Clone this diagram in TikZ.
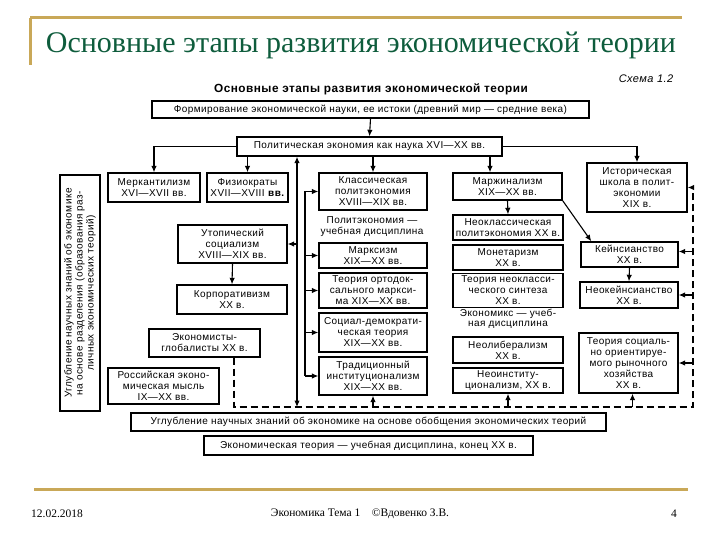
\documentclass[tikz,border=0pt]{standalone}
\usepackage{fontspec}
\setmainfont{Liberation Serif}
\setsansfont{Liberation Sans}
\newfontfamily\diag[LetterSpace=4]{Liberation Sans}
\usetikzlibrary{arrows.meta,calc}
\definecolor{gold}{RGB}{201,168,88}
\definecolor{titlegreen}{RGB}{14,92,60}
\tikzset{
  box/.style={draw, line width=1.4pt, align=center, inner sep=1pt, font=\diag\fontsize{10}{11}\selectfont},
  plain/.style={align=center, inner sep=0pt, font=\diag\fontsize{10}{10.2}\selectfont},
  arr/.style={-{Latex[length=6.5pt,width=5.5pt]}, line width=1.1pt},
  dsh/.style={line width=1.4pt, dash pattern=on 7pt off 4pt},
}
\begin{document}
\begin{tikzpicture}[x=1pt,y=-1pt]
\useasboundingbox (0,0) rectangle (720,540);
% frame
\draw[gold, line width=3pt] (30,18) -- (682,18);
\draw[gold, line width=3pt] (30,18) -- (30,65);
\draw[gold, line width=3pt] (34,489) -- (688,489);
\node[font=\fontsize{30}{34}\selectfont, text=titlegreen] (title) at (361,45) {Основные этапы развития экономической теории};
% heading
\node[font=\diag\bfseries\fontsize{11.8}{13}\selectfont] (head) at (371,89) {Основные этапы развития экономической теории};
\node[font=\diag\itshape\fontsize{11}{12}\selectfont] (schema) at (646,79) {Схема 1.2};
% boxes
\node[box, minimum width=437pt, minimum height=17pt] (form) at (370.5,109.5) {Формирование экономической науки, ее истоки (древний мир — средние века)};
\node[box, minimum width=265pt, minimum height=19pt] (pol) at (369.5,146.5) {Политическая экономия как наука XVI—XX вв.};
\node[box, minimum width=92pt, minimum height=29pt] (merk) at (154,187.5) {Меркантилизм\\XVI—XVII вв.};
\node[box, minimum width=81pt, minimum height=29pt] (fiz) at (247.5,187.5) {Физиократы\\XVII—XVIII \textbf{вв.}};
\node[box, minimum width=108pt, minimum height=37pt] (klass) at (373,191.5) {Классическая\\политэкономия\\XVIII—XIX вв.};
\node[plain] (polucheb) at (372,226.5) {Политэкономия —\\учебная дисциплина};
\node[box, minimum width=108pt, minimum height=25pt] (marks) at (373,255.5) {Марксизм\\XIX—XX вв.};
\node[box, minimum width=108pt, minimum height=35pt] (orto) at (373,290.5) {Теория ортодок-\\сального маркси-\\ма XIX—XX вв.};
\node[box, minimum width=108pt, minimum height=39pt] (socdem) at (373,332.5) {Социал-демократи-\\ческая теория\\XIX—XX вв.};
\node[box, minimum width=108pt, minimum height=38pt] (trad) at (373,376) {Традиционный\\институционализм\\XIX—XX вв.};
\node[box, minimum width=109pt, minimum height=27pt] (marg) at (507.5,186.5) {Маржинализм\\XIX—XX вв.};
\node[box, minimum width=110pt, minimum height=25pt] (neokl) at (508,227.5) {Неоклассическая\\политэкономия XX в.};
\node[box, minimum width=110pt, minimum height=25pt] (monet) at (508,257.5) {Монетаризм\\XX в.};
\node[box, minimum width=110pt, minimum height=34pt] (sintez) at (508,290.5) {Теория неокласси-\\ческого синтеза\\XX в.};
\node[plain] (ekonomiks) at (508,318.5) {Экономикс — учеб-\\ная дисциплина};
\node[box, minimum width=110pt, minimum height=26pt] (neolib) at (508,350) {Неолиберализм\\XX в.};
\node[box, minimum width=110pt, minimum height=25pt] (neoinst) at (508,380.5) {Неоинститу-\\ционализм, XX в.};
\node[box, minimum width=100pt, minimum height=49pt] (istor) at (637,187.5) {Историческая\\школа в полит-\\экономии\\XIX в.};
\node[box, minimum width=97pt, minimum height=25pt] (keyn) at (629.5,254.5) {Кейнсианство\\XX в.};
\node[box, minimum width=98pt, minimum height=26pt] (neokeyn) at (629,295) {Неокейнсианство\\XX в.};
\node[box, minimum width=99pt, minimum height=60pt] (socr) at (628.5,363) {Теория социаль-\\но ориентируе-\\мого рыночного\\хозяйства\\XX в.};
\node[box, minimum width=109pt, minimum height=38pt] (utop) at (232.5,244) {Утопический\\социализм\\XVIII—XIX вв.};
\node[box, minimum width=110pt, minimum height=29pt] (korp) at (232,299.5) {Корпоративизм\\XX в.};
\node[box, minimum width=111pt, minimum height=28pt] (glob) at (204.5,343) {Экономисты-\\глобалисты XX в.};
\node[box, minimum width=111pt, minimum height=36pt] (ross) at (163.5,386) {Российская эконо-\\мическая мысль\\IX—XX вв.};
\node[box, minimum width=236pt, minimum height=40pt, rotate=90] (razd) at (80,293) {Углубление научных знаний об экономике\\на основе разделения (образования раз-\\личных экономических теорий)};
\node[box, minimum width=475pt, minimum height=18pt] (obob) at (368.5,422) {Углубление научных знаний об экономике на основе обобщения экономических теорий};
\node[box, minimum width=329pt, minimum height=19pt] (ekteor) at (368.5,445.5) {Экономическая теория — учебная дисциплина, конец XX в.};
% connectors
\coordinate (tA) at (297,0);
\coordinate (tB) at (305,0);
\coordinate (dR) at (693,0);
\coordinate (dY) at (0,407);
\coordinate (mg) at (490,0);
\coordinate (gx) at (234,0);
\draw[arr] (form.south) -- (pol.north);
\draw[arr] (pol.west) -| (merk.north);
\draw[arr] (pol.south -| fiz.north) -- (fiz.north);
\draw[arr] (pol.south -| klass.north) -- (klass.north);
\draw[arr] (pol.south -| mg) -- (marg.north -| mg);
\draw[arr] (pol.east) -| (istor.north);
\draw[arr, {Latex[length=6.5pt,width=5.5pt]}-{Latex[length=6.5pt,width=5.5pt]}] (dY -| tA) -- (pol.south -| tA);
\draw[line width=1.1pt] (klass.west -| tB) -- (trad.west -| tB);
\draw[arr] (klass.west -| tB) -- (klass.west);
\draw[arr] (marks.west -| tB) -- (marks.west);
\draw[arr] (orto.west -| tB) -- (orto.west);
\draw[arr] (socdem.west -| tB) -- (socdem.west);
\draw[arr] (trad.west -| tB) -- (trad.west);
\draw[arr] (utop.east -| tA) -- (utop.east);
\draw[arr] (utop.south) -- (korp.north);
\draw[arr] (marg.south) -- (neokl.north);
\draw[arr] (marg.south east) -- ([xshift=11pt]keyn.north west);
\draw[arr] (keyn.south) -- (neokeyn.north);
% dashed loop
\draw[dsh] (glob.south -| gx) -- (dY -| gx) -- (dY -| dR) -- (istor.east -| dR);
\draw[arr] (istor.east -| dR) -- (istor.east);
\draw[arr] ([yshift=3pt]keyn.east -| dR) -- ([yshift=3pt]keyn.east);
\draw[arr] (neokeyn.east -| dR) -- (neokeyn.east);
\draw[arr] (socr.east -| dR) -- (socr.east);
\draw[arr] (dY -| trad.south) -- (trad.south);
\draw[arr] (dY -| neoinst.south) -- (neoinst.south);
\draw[arr] ([xshift=4pt]socr.south |- dY) -- ([xshift=4pt]socr.south);
% footer
\node[font=\fontsize{11.5}{13}\selectfont] (date) at (57,514) {12.02.2018};
\node[font=\fontsize{11.5}{13}\selectfont] (foot) at (360,514) {Экономика Тема 1\quad ©Вдовенко З.В.};
\node[font=\fontsize{11.5}{13}\selectfont] (page) at (674,514) {4};
\end{tikzpicture}
\end{document}
